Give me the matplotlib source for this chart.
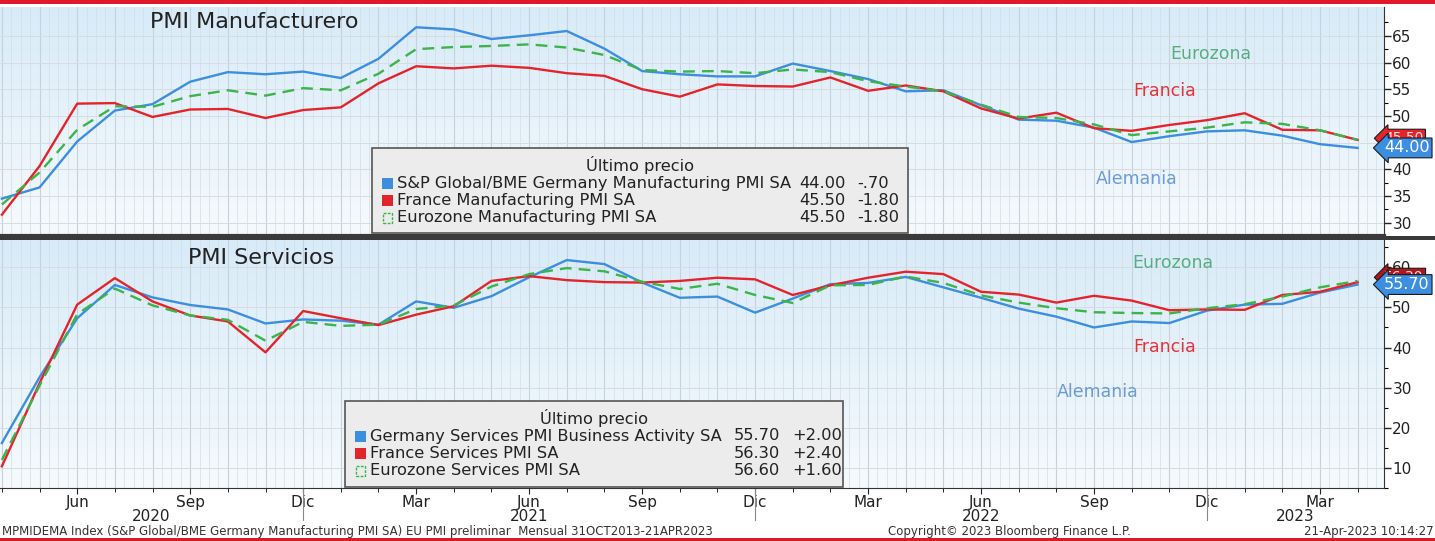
import numpy as np
import matplotlib
matplotlib.use("Agg")
import matplotlib.pyplot as plt
from matplotlib.colors import LinearSegmentedColormap
from matplotlib.patches import Rectangle
from matplotlib.lines import Line2D

# monthly data, Apr 2020 .. Apr 2023
de_manuf = [34.5, 36.6, 45.2, 51.0, 52.2, 56.4, 58.2, 57.8, 58.3, 57.1, 60.7, 66.6, 66.2,
            64.4, 65.1, 65.9, 62.6, 58.4, 57.8, 57.4, 57.4, 59.8, 58.4, 56.9, 54.6, 54.8,
            52.0, 49.3, 49.1, 47.8, 45.1, 46.2, 47.1, 47.3, 46.3, 44.7, 44.0]
fr_manuf = [31.5, 40.6, 52.3, 52.4, 49.8, 51.2, 51.3, 49.6, 51.1, 51.6, 56.1, 59.3, 58.9,
            59.4, 59.0, 58.0, 57.5, 55.0, 53.6, 55.9, 55.6, 55.5, 57.2, 54.7, 55.7, 54.6,
            51.4, 49.5, 50.6, 47.7, 47.2, 48.3, 49.2, 50.5, 47.4, 47.3, 45.5]
ez_manuf = [33.4, 39.4, 47.4, 51.8, 51.7, 53.7, 54.8, 53.8, 55.2, 54.8, 57.9, 62.5, 62.9,
            63.1, 63.4, 62.8, 61.4, 58.6, 58.3, 58.4, 58.0, 58.7, 58.2, 56.5, 55.5, 54.6,
            52.1, 49.8, 49.6, 48.4, 46.4, 47.1, 47.8, 48.8, 48.5, 47.3, 45.5]
de_serv = [16.2, 32.6, 47.3, 55.6, 52.5, 50.6, 49.5, 46.0, 47.0, 46.7, 45.7, 51.5, 49.9,
           52.8, 57.5, 61.8, 60.8, 56.2, 52.4, 52.7, 48.7, 52.2, 55.8, 56.1, 57.6, 55.0,
           52.4, 49.7, 47.7, 45.0, 46.5, 46.1, 49.2, 50.7, 50.9, 53.7, 55.7]
fr_serv = [10.4, 31.1, 50.7, 57.3, 51.5, 48.0, 46.5, 38.8, 49.1, 47.3, 45.6, 48.2, 50.3,
           56.6, 57.8, 56.8, 56.3, 56.2, 56.6, 57.4, 57.0, 53.1, 55.5, 57.4, 58.9, 58.3,
           53.9, 53.2, 51.2, 52.9, 51.7, 49.3, 49.5, 49.4, 53.1, 53.9, 56.3]
ez_serv = [12.0, 30.5, 48.3, 54.7, 50.5, 48.0, 46.9, 41.7, 46.4, 45.4, 45.7, 49.6, 50.5,
           55.2, 58.3, 59.8, 59.0, 56.4, 54.6, 55.9, 53.1, 51.1, 55.5, 55.6, 57.7, 56.1,
           53.0, 51.2, 49.8, 48.8, 48.6, 48.5, 49.8, 50.8, 52.7, 55.0, 56.6]

mes = ['Ene', 'Feb', 'Mar', 'Abr', 'May', 'Jun', 'Jul', 'Ago', 'Sep', 'Oct', 'Nov', 'Dic']
manuf_names = ["S&P Global/BME Germany Manufacturing PMI SA", "France Manufacturing PMI SA",
               "Eurozone Manufacturing PMI SA"]
manuf_last = ["44.00", "45.50", "45.50"]
manuf_chg = ["-.70", "-1.80", "-1.80"]
serv_names = ["Germany Services PMI Business Activity SA", "France Services PMI SA",
              "Eurozone Services PMI SA"]
serv_last = ["55.70", "56.30", "56.60"]
serv_chg = ["+2.00", "+2.40", "+1.60"]

BLUE = '#3b8ee0'
RED = '#e4242b'
GREEN = '#3cb44a'

W, H = 1435, 541
fig = plt.figure(figsize=(W / 100, H / 100), dpi=100)
fig.patch.set_facecolor('white')

def fx(x):
    return x / W

def fy(y):
    return 1 - y / H

n = len(de_manuf)
x = np.arange(n)
xmin, xmax = -0.05, 36.7

ax1 = fig.add_axes([0, fy(236), fx(1384), (236 - 7) / H])
ax2 = fig.add_axes([0, fy(488), fx(1384), (488 - 240) / H])

bg = LinearSegmentedColormap.from_list('bg', ['#f6fafd', '#d8ebf8'])

def setup(ax, ylo, yhi, major, minor):
    ax.set_xlim(xmin, xmax)
    ax.set_ylim(ylo, yhi)
    ax.imshow(np.linspace(0, 1, 200).reshape(-1, 1), cmap=bg, origin='lower',
              extent=[xmin, xmax, ylo, yhi], aspect='auto', zorder=0)
    # weekly-ish and monthly vertical grid
    for v in np.arange(0, xmax, 0.25):
        ax.axvline(v, color='#d3dee6', lw=0.5, zorder=1)
    for v in range(0, 37):
        ax.axvline(v, color='#c5d2db', lw=0.8, zorder=1)
    for v in major:
        ax.axhline(v, color='#d6dce0', lw=0.7, zorder=1)
    ax.yaxis.tick_right()
    ax.set_yticks(major)
    ax.set_yticks(minor, minor=True)
    ax.tick_params(axis='y', which='major', direction='out', length=5, width=1,
                   labelsize=11, pad=1, colors='#222222')
    ax.tick_params(axis='y', which='minor', direction='out', length=3, width=0.8)
    for s in ['top', 'left']:
        ax.spines[s].set_visible(False)
    ax.spines['right'].set_color('#333333')
    ax.spines['bottom'].set_color('#333333')

setup(ax1, 27.75, 70.4, np.arange(30, 70, 5), np.arange(27.5, 70, 2.5))
setup(ax2, 5.1, 66.8, np.arange(10, 70, 10), np.arange(5, 66, 5))

ax1.plot(x, de_manuf, color=BLUE, lw=1.7, zorder=3)
ax1.plot(x, fr_manuf, color=RED, lw=1.7, zorder=3)
ax1.plot(x, ez_manuf, color=GREEN, lw=1.7, ls=(0, (5, 3)), zorder=4)
ax2.plot(x, de_serv, color=BLUE, lw=1.7, zorder=3)
ax2.plot(x, fr_serv, color=RED, lw=1.7, zorder=3)
ax2.plot(x, ez_serv, color=GREEN, lw=1.7, ls=(0, (5, 3)), zorder=4)

ax1.set_xticks([])
ax1.spines['bottom'].set_linewidth(3)
ax1.spines['bottom'].set_color('#3a3a3a')

# x axis of the lower panel
lab_pos = [i for i in range(n) if (3 + i) % 12 in (2, 5, 8, 11)]
ax2.set_xticks(lab_pos)
ax2.set_xticklabels([mes[(3 + i) % 12] for i in lab_pos])
ax2.set_xticks(range(n), minor=True)
ax2.tick_params(axis='x', which='major', length=4, labelsize=11, pad=1, colors='#222222')
ax2.tick_params(axis='x', which='minor', length=3)

bounds = [xmin] + [i for i in range(n) if (3 + i) % 12 == 11] + [xmax]
for k in range(len(bounds) - 1):
    ax2.text((bounds[k] + bounds[k + 1]) / 2, -0.115, str(2020 + k),
             transform=ax2.get_xaxis_transform(), ha='center', va='center',
             fontsize=11, color='#222222')
for b in bounds[1:-1]:
    ax2.add_line(Line2D([b, b], [0, -0.13], transform=ax2.get_xaxis_transform(),
                        color='#888888', lw=0.8, clip_on=False))

# titles and series names
fig.text(fx(150), fy(22), "PMI Manufacturero", fontsize=16, color='#222222', va='center')
fig.text(fx(188), fy(258), "PMI Servicios", fontsize=16, color='#222222', va='center')
for fxp, fyp, txt, c in [(1211, 54, "Eurozona", '#58ad7f'), (1165, 91, "Francia", '#e0343a'),
                         (1137, 179, "Alemania", '#6c9bd8'), (1173, 263, "Eurozona", '#58ad7f'),
                         (1165, 347, "Francia", '#e0343a'), (1098, 392, "Alemania", '#6c9bd8')]:
    fig.text(fx(fxp), fy(fyp), txt, fontsize=12.5, color=c, ha='center', va='center')

# legend boxes
def legend_box(x0, x1, y0, y1, names, last, chg, val_right, chg_left):
    fig.patches.append(Rectangle((fx(x0), fy(y1)), fx(x1 - x0), (y1 - y0) / H,
                                 transform=fig.transFigure, facecolor='#ececec',
                                 edgecolor='#555555', lw=1.2, zorder=5))
    fig.text(fx((x0 + x1) / 2), fy(y0 + 17), "Último precio", fontsize=11.7,
             ha='center', va='center', color='#222222', zorder=6)
    cols = [BLUE, RED, GREEN]
    for k in range(3):
        yy = y0 + 35 + 17.3 * k
        if k < 2:
            fig.patches.append(Rectangle((fx(x0 + 10), fy(yy + 6)), fx(11), 11 / H,
                                         transform=fig.transFigure, facecolor=cols[k],
                                         edgecolor='none', zorder=6))
        else:
            fig.patches.append(Rectangle((fx(x0 + 11), fy(yy + 5)), fx(9), 10 / H,
                                         transform=fig.transFigure, facecolor='none',
                                         edgecolor=GREEN, ls=(0, (2, 1)), lw=1, zorder=6))
        fig.text(fx(x0 + 25), fy(yy), names[k], fontsize=11.7, va='center',
                 color='#222222', zorder=6)
        fig.text(fx(val_right), fy(yy), last[k], fontsize=11.7, va='center', ha='right',
                 color='#222222', zorder=6)
        fig.text(fx(chg_left), fy(yy), chg[k], fontsize=11.7, va='center', ha='left',
                 color='#222222', zorder=6)

legend_box(372, 908, 148, 233, manuf_names, manuf_last, manuf_chg, 846, 857)
legend_box(345, 843, 401, 487, serv_names, serv_last, serv_chg, 780, 792)

# last value tags on the right axis
def tag(ax, val, txt, face, tcol, size=11.5):
    ax.text(1.0, val, txt, transform=ax.get_yaxis_transform(), fontsize=size,
            color=tcol, va='center', ha='left', clip_on=False, zorder=8,
            bbox=dict(boxstyle='larrow,pad=0.15', facecolor=face, edgecolor='#1a1a1a', lw=0.8))

tag(ax1, fr_manuf[-1] + 0.3, "45.50", RED, '#ffdddd', 10)
tag(ax1, de_manuf[-1], "44.00", BLUE, 'white')
tag(ax2, fr_serv[-1] + 1.2, "56.30", '#b0161c', '#ffdddd', 10)
tag(ax2, de_serv[-1], "55.70", BLUE, 'white')

# frame decorations
fig.patches.append(Rectangle((0, fy(4)), 1, 4 / H, transform=fig.transFigure,
                             facecolor='#e0182a', edgecolor='none', zorder=9))
fig.patches.append(Rectangle((0, 0), 1, 3 / H, transform=fig.transFigure,
                             facecolor='#e0182a', edgecolor='none', zorder=9))
fig.patches.append(Rectangle((0, fy(240)), 1, 4 / H, transform=fig.transFigure,
                             facecolor='#3a3a3a', edgecolor='none', zorder=9))

# footer
fig.text(fx(2), fy(532), "MPMIDEMA Index (S&P Global/BME Germany Manufacturing PMI SA) EU PMI preliminar  "
         "Mensual 31OCT2013-21APR2023", fontsize=8.5, va='center', color='#333333')
fig.text(fx(888), fy(532), "Copyright© 2023 Bloomberg Finance L.P.", fontsize=8.5,
         va='center', ha='left', color='#333333')
fig.text(fx(1434), fy(532), "21-Apr-2023 10:14:27", fontsize=8.5, va='center',
         ha='right', color='#333333')

fig.savefig('out.png', dpi=100, facecolor='white')
